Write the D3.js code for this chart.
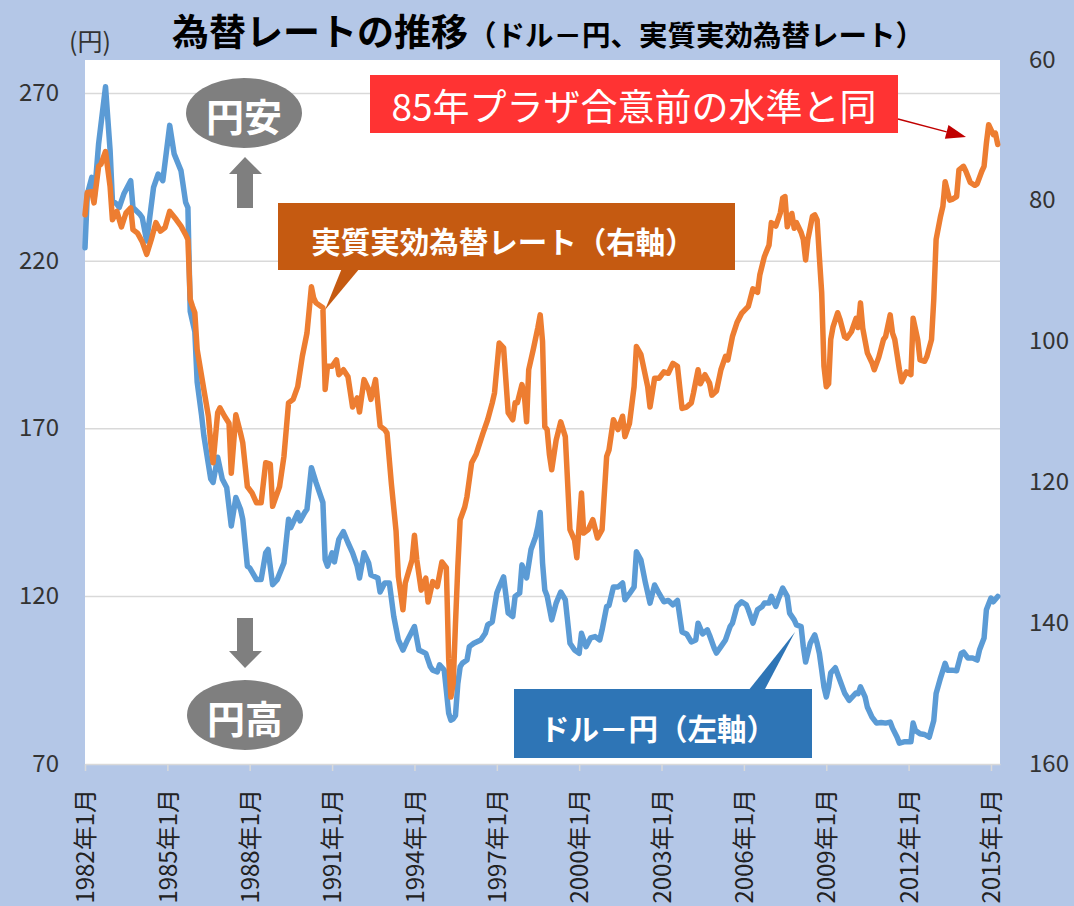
<!DOCTYPE html>
<html>
<head>
<meta charset="utf-8">
<script src="https://cdn.jsdelivr.net/npm/d3@7"></script>
<style>
  html, body { margin: 0; padding: 0; background: #b4c7e7; }
  svg { display: block; font-family: "Noto Sans CJK JP", "Noto Sans", sans-serif; }
</style>
</head>
<body>
<div id="chart"></div>
<script>
// ドル－円 (left axis, 円)
const usdJpy = [
  ["1982-01",224],["1982-02",240],["1982-04",245],["1982-05",238],["1982-07",255],["1982-10",272],
  ["1982-12",253],["1983-01",238],["1983-03",237],["1983-04",236],["1983-06",240],["1983-09",244],
  ["1983-10",236],["1984-01",234],["1984-02",233],["1984-04",226],["1984-07",242],["1984-09",246],
  ["1984-11",244],["1985-02",260.5],["1985-04",252],["1985-07",247],["1985-09",237.5],["1985-10",236],
  ["1985-11",205],["1985-12",202],["1986-01",199],["1986-02",184],["1986-04",174],["1986-05",168],
  ["1986-08",155],["1986-09",154],["1986-11",161.5],["1987-01",155],["1987-03",152.5],["1987-05",141],
  ["1987-07",149.5],["1987-09",146],["1987-10",143],["1987-12",129],["1988-01",128.5],["1988-04",125],
  ["1988-06",125],["1988-08",133],["1988-09",134],["1988-11",123.5],["1989-01",125],["1989-04",130],
  ["1989-06",143],["1989-07",140.5],["1989-10",145],["1989-11",142.5],["1990-01",145],["1990-02",146],
  ["1990-04",158.4],["1990-06",154],["1990-09",148],["1990-10",131],["1990-11",129],["1991-01",133],
  ["1991-02",130.3],["1991-04",137],["1991-06",139.3],["1991-08",136],["1991-10",133],["1991-12",129],
  ["1992-01",125.5],["1992-03",133],["1992-05",130],["1992-06",126.4],["1992-09",125.5],["1992-10",121.3],
  ["1992-12",124],["1993-02",124],["1993-04",114],["1993-06",107],["1993-08",104],["1993-10",107],
  ["1994-01",111],["1994-03",104],["1994-06",103],["1994-08",99],["1994-09",98],["1994-11",97.5],
  ["1994-12",99.6],["1995-02",98],["1995-03",92],["1995-04",85.2],["1995-05",83.1],["1995-06",83.5],
  ["1995-07",84.5],["1995-08",94],["1995-09",99],["1995-10",100.1],["1995-12",101],["1996-01",105],
  ["1996-03",106],["1996-06",107],["1996-08",109],["1996-09",111.5],["1996-11",112.4],["1997-01",121],
  ["1997-02",122.8],["1997-04",125.8],["1997-06",115],["1997-08",114],["1997-09",120],["1997-11",121],
  ["1997-12",129.4],["1998-02",125.5],["1998-04",134],["1998-06",137.8],["1998-07",140.8],["1998-08",145],
  ["1998-09",130],["1998-10",121.9],["1998-11",120.1],["1999-01",113],["1999-03",118],["1999-05",121.3],
  ["1999-07",119],["1999-09",106],["1999-11",104],["2000-01",103],["2000-02",109],["2000-04",105],
  ["2000-06",107.6],["2000-08",108],["2000-10",107],["2000-11",110],["2001-01",117],["2001-02",117.3],
  ["2001-04",122.8],["2001-06",122.8],["2001-08",124],["2001-09",119],["2001-11",120.8],["2002-01",122.8],
  ["2002-02",133.3],["2002-04",130.9],["2002-06",124],["2002-08",118],["2002-10",123.4],["2002-12",120.8],
  ["2003-02",118.4],["2003-04",118.8],["2003-06",117.5],["2003-08",118.8],["2003-10",109.4],["2003-12",108.8],
  ["2004-02",106.4],["2004-04",107],["2004-05",112],["2004-07",108.8],["2004-09",110],["2004-10",108.4],
  ["2004-12",104.6],["2005-01",103.1],["2005-03",105],["2005-05",107],["2005-07",111],["2005-08",112],
  ["2005-10",117],["2005-12",118.4],["2006-02",117.5],["2006-03",116],["2006-05",112],["2006-07",116],
  ["2006-09",117],["2006-10",118],["2006-12",118],["2007-01",120],["2007-03",117],["2007-04",119],
  ["2007-06",122.5],["2007-08",120],["2007-09",115],["2007-11",113],["2007-12",111.5],["2008-02",111],
  ["2008-03",105],["2008-04",100.4],["2008-06",106],["2008-08",108.5],["2008-09",106],["2008-10",103],
  ["2008-11",98],["2008-12",93],["2009-01",90],["2009-02",93],["2009-03",97.2],["2009-05",98.7],
  ["2009-07",95],["2009-09",91.2],["2009-11",89],["2010-02",91.2],["2010-03",91],["2010-04",93],
  ["2010-06",90],["2010-07",87],["2010-09",84],["2010-11",82.2],["2011-01",82.4],["2011-03",82.2],
  ["2011-05",82.5],["2011-06",80.7],["2011-08",78],["2011-09",76.2],["2011-11",76.6],["2012-02",76.6],
  ["2012-03",82.2],["2012-04",80],["2012-06",79],["2012-08",78.8],["2012-10",78],["2012-12",83],
  ["2013-01",91],["2013-03",95.7],["2013-05",100],["2013-06",98],["2013-08",98],["2013-10",97.8],
  ["2013-12",103],["2014-01",103.4],["2014-03",101.6],["2014-05",101.6],["2014-07",101],["2014-08",104],
  ["2014-10",107.6],["2014-11",116],["2015-01",119.5],["2015-02",118.4],["2015-04",120]
];

// 実質実効為替レート (right axis, inverted)
const reer = [
  ["1982-01",82],["1982-02",78.8],["1982-04",78.7],["1982-05",80.3],["1982-07",75.1],["1982-08",74.8],
  ["1982-10",73],["1982-12",78],["1983-01",82.7],["1983-03",81.5],["1983-05",83.7],["1983-07",81.7],
  ["1983-09",81],["1983-10",84.1],["1983-12",84.6],["1984-02",85.8],["1984-04",87.6],["1984-06",85.5],
  ["1984-08",83.1],["1984-10",84.3],["1984-12",83.8],["1985-02",81.5],["1985-05",82.7],["1985-07",83.6],
  ["1985-09",84.8],["1985-10",85.5],["1985-11",94],["1985-12",95],["1986-01",95.9],["1986-02",101.1],
  ["1986-05",106.8],["1986-07",110.6],["1986-08",114.4],["1986-09",117.2],["1986-11",110.1],["1986-12",109.4],
  ["1987-02",110.6],["1987-04",111.6],["1987-05",118.7],["1987-07",110.4],["1987-09",113],["1987-10",114.4],
  ["1987-12",120.6],["1988-02",121.5],["1988-04",122.9],["1988-06",122.9],["1988-08",117.2],["1988-10",117.4],
  ["1988-11",123.4],["1989-02",120.6],["1989-04",116.3],["1989-06",108.7],["1989-08",108.2],["1989-10",106.4],
  ["1989-12",102.1],["1990-02",98.8],["1990-04",92.2],["1990-05",93.8],["1990-06",94.5],["1990-09",95.2],
  ["1990-10",106.8],["1990-11",103.5],["1991-01",103.5],["1991-03",102.6],["1991-04",104.7],["1991-06",104],
  ["1991-08",105],["1991-10",109.3],["1991-12",108],["1992-01",110],["1992-03",105.4],["1992-05",106.8],
  ["1992-06",108.2],["1992-08",105.4],["1992-10",112],["1992-12",112.5],["1993-01",113],["1993-03",120.3],
  ["1993-05",126.9],["1993-06",133.4],["1993-08",138.1],["1993-09",134.3],["1993-12",131],["1994-01",127.5],
  ["1994-02",131],["1994-04",135.3],["1994-06",133.6],["1994-07",137],["1994-09",134.1],["1994-11",134.8],
  ["1995-01",131.3],["1995-03",132.1],["1995-04",145],["1995-05",150.5],["1995-06",148.5],["1995-07",140],
  ["1995-08",132],["1995-09",125.3],["1995-11",123.5],["1995-12",122],["1996-02",117.2],["1996-04",116],
  ["1996-05",115],["1996-07",113],["1996-09",111.1],["1996-11",108.7],["1996-12",107.3],["1997-02",100.2],
  ["1997-04",100.9],["1997-06",110.1],["1997-08",111.1],["1997-09",108.7],["1997-10",108.7],["1997-12",106.1],
  ["1998-01",107.5],["1998-02",111.4],["1998-03",104],["1998-05",101.1],["1998-07",98],["1998-08",96.2],
  ["1998-09",100],["1998-10",112.1],["1998-11",112.5],["1998-12",116],["1999-01",118.2],["1999-03",114],
  ["1999-05",111.4],["1999-07",113.5],["1999-09",126.7],["1999-11",128.2],["1999-12",130.7],["2000-02",121.5],
  ["2000-03",127.2],["2000-05",126.7],["2000-07",125.3],["2000-09",127.9],["2000-11",126.7],["2001-01",116.3],
  ["2001-02",115.4],["2001-04",111.1],["2001-06",112.5],["2001-08",110.6],["2001-09",113.5],["2001-11",111.6],
  ["2002-01",106.4],["2002-02",100.7],["2002-04",101.8],["2002-07",106.4],["2002-08",109.3],["2002-10",105.2],
  ["2002-12",105.2],["2003-02",104.3],["2003-04",104.5],["2003-06",103.1],["2003-08",103.5],["2003-10",109.5],
  ["2003-12",109.3],["2004-02",108.7],["2004-03",107.3],["2004-05",104],["2004-06",106],["2004-08",104.7],
  ["2004-10",105.9],["2004-11",107.6],["2005-01",107],["2005-03",104],["2005-05",102.1],["2005-06",102.6],
  ["2005-08",99.3],["2005-10",97.3],["2005-12",96],["2006-03",95],["2006-05",92.5],["2006-07",93],
  ["2006-08",90.5],["2006-10",87.9],["2006-12",86.3],["2007-01",83.1],["2007-03",83.6],["2007-05",81.7],
  ["2007-06",79.6],["2007-07",79.4],["2007-08",83.7],["2007-10",81.8],["2007-11",83.9],["2007-12",83.1],
  ["2008-02",84.5],["2008-03",85.5],["2008-04",88.4],["2008-05",85.5],["2008-07",82.2],["2008-08",82],
  ["2008-09",82.7],["2008-10",88],["2008-11",93.1],["2008-12",103.5],["2009-01",106.4],["2009-02",106],
  ["2009-03",99.7],["2009-04",97.9],["2009-06",95.9],["2009-07",96.8],["2009-09",99.3],["2009-10",99.5],
  ["2009-12",98.6],["2010-02",96.7],["2010-03",98],["2010-04",94.5],["2010-05",98.1],["2010-07",101.6],
  ["2010-09",103],["2010-10",104],["2010-12",102.2],["2011-02",99.7],["2011-03",99.3],["2011-05",96.2],
  ["2011-06",98.8],["2011-07",99.7],["2011-09",104],["2011-10",105.7],["2011-12",104.3],["2012-02",104.7],
  ["2012-03",96.7],["2012-05",99.7],["2012-06",102.6],["2012-08",102.8],["2012-09",102.1],["2012-11",99.7],
  ["2012-12",94],["2013-01",85.5],["2013-03",82.2],["2013-04",80.8],["2013-05",77.3],["2013-07",79.9],
  ["2013-08",79.8],["2013-10",79.4],["2013-11",75.6],["2014-01",75.1],["2014-02",75.8],["2014-04",77.4],
  ["2014-06",77.8],["2014-07",77.6],["2014-09",75.8],["2014-10",75.1],["2014-11",71.8],["2014-12",69.2],
  ["2015-02",70.6],["2015-03",70.4],["2015-04",72]
];

const xTicks = ["1982-01","1985-01","1988-01","1991-01","1994-01","1997-01",
                "2000-01","2003-01","2006-01","2009-01","2012-01","2015-01"];
const leftTicks = [70, 120, 170, 220, 270];
const rightTicks = [60, 80, 100, 120, 140, 160];

const W = 1074, H = 906;
const plot = { left: 85, right: 1000, top: 60, bottom: 764 };
const parse = d3.timeParse("%Y-%m");
const font = '"Noto Sans CJK JP", "Noto Sans", sans-serif';

const svg = d3.select("#chart").append("svg")
  .attr("width", W).attr("height", H);

svg.append("rect").attr("width", W).attr("height", H).attr("fill", "#b4c7e7");
svg.append("rect")
  .attr("x", plot.left).attr("y", plot.top)
  .attr("width", plot.right - plot.left).attr("height", plot.bottom - plot.top)
  .attr("fill", "#fff");

const x = d3.scaleTime().domain([parse("1982-01"), parse("2015-05")]).range([plot.left, plot.right]);
const yL = d3.scaleLinear().domain([70, 280]).range([plot.bottom, plot.top]);
const yR = d3.scaleLinear().domain([60, 160]).range([plot.top, plot.bottom]);

// gridlines
svg.append("g").selectAll("line")
  .data(leftTicks.filter(d => d > 70))
  .join("line")
  .attr("x1", plot.left).attr("x2", plot.right)
  .attr("y1", d => yL(d)).attr("y2", d => yL(d))
  .attr("stroke", "#d9d9d9").attr("stroke-width", 1.5);

// left axis labels
svg.append("g").selectAll("text")
  .data(leftTicks)
  .join("text")
  .attr("x", 59).attr("y", d => yL(d) - 3)
  .attr("text-anchor", "end").attr("dominant-baseline", "central")
  .attr("font-size", 24).attr("fill", "#333")
  .text(d => d);

// right axis labels
svg.append("g").selectAll("text")
  .data(rightTicks)
  .join("text")
  .attr("x", 1029).attr("y", d => yR(d) - 3)
  .attr("text-anchor", "start").attr("dominant-baseline", "central")
  .attr("font-size", 24).attr("fill", "#333")
  .text(d => d);

svg.append("text")
  .attr("x", 69).attr("y", 40)
  .attr("dominant-baseline", "central")
  .attr("font-size", 25).attr("fill", "#333")
  .text("(円)");

// x axis
const xAxis = d3.axisBottom(x)
  .tickValues(xTicks.map(parse))
  .tickSize(7).tickSizeOuter(0)
  .tickFormat(d3.timeFormat("%Y年%-m月"));

const gx = svg.append("g")
  .attr("transform", `translate(0,${plot.bottom})`)
  .call(xAxis);
gx.select(".domain").attr("stroke", "#d9d9d9").attr("stroke-width", 1.5);
gx.selectAll(".tick line").attr("stroke", "#d9d9d9").attr("stroke-width", 1.5);
gx.selectAll(".tick text")
  .attr("transform", "rotate(-90)")
  .attr("x", -25).attr("y", 0).attr("dy", "0.36em")
  .attr("text-anchor", "end")
  .attr("font-family", font).attr("font-size", 24).attr("fill", "#222");

// lines
const lineL = d3.line().x(d => x(parse(d[0]))).y(d => yL(d[1]));
const lineR = d3.line().x(d => x(parse(d[0]))).y(d => yR(d[1]));

svg.append("path").datum(usdJpy)
  .attr("d", lineL).attr("fill", "none")
  .attr("stroke", "#5b9bd5").attr("stroke-width", 5.5)
  .attr("stroke-linejoin", "round").attr("stroke-linecap", "round");

svg.append("path").datum(reer)
  .attr("d", lineR).attr("fill", "none")
  .attr("stroke", "#ed7d31").attr("stroke-width", 5.5)
  .attr("stroke-linejoin", "round").attr("stroke-linecap", "round");

// title
const title = svg.append("text").attr("x", 172).attr("y", 46).attr("fill", "#000").attr("font-weight", 700);
title.append("tspan").attr("font-size", 37).text("為替レートの推移");
title.append("tspan").attr("font-size", 28.5).text("（ドル－円、実質実効為替レート）");

// 円安 / 円高 markers
const gray = "#7f7f7f";
function bubble(cx, cy, label) {
  svg.append("ellipse").attr("cx", cx).attr("cy", cy).attr("rx", 58).attr("ry", 35).attr("fill", gray);
  svg.append("text").attr("x", cx).attr("y", cy + 1)
    .attr("text-anchor", "middle").attr("dominant-baseline", "central")
    .attr("font-size", 38).attr("font-weight", 700).attr("fill", "#fff")
    .text(label);
}
bubble(244, 113, "円安");
bubble(245, 715, "円高");

svg.append("polygon").attr("fill", gray)
  .attr("points", "245,157 262,174 253,174 253,208 237,208 237,174 229,174");
svg.append("polygon").attr("fill", gray)
  .attr("points", "245,668 262,651 253,651 253,618 237,618 237,651 229,651");

// callout: 実質実効為替レート
svg.append("polygon").attr("fill", "#c55a11").attr("points", "342,268 360,268 325,310");
svg.append("rect").attr("x", 278).attr("y", 203).attr("width", 457).attr("height", 67).attr("fill", "#c55a11");
svg.append("text").attr("x", 503).attr("y", 240)
  .attr("text-anchor", "middle").attr("dominant-baseline", "central")
  .attr("font-size", 29.5).attr("font-weight", 700).attr("fill", "#fff")
  .text("実質実効為替レート（右軸）");

// callout: ドル－円
svg.append("polygon").attr("fill", "#2e75b6").attr("points", "748,691 764,691 795,632");
svg.append("rect").attr("x", 514).attr("y", 689).attr("width", 298).attr("height", 69).attr("fill", "#2e75b6");
svg.append("text").attr("x", 658).attr("y", 727)
  .attr("text-anchor", "middle").attr("dominant-baseline", "central")
  .attr("font-size", 29.5).attr("font-weight", 700).attr("fill", "#fff")
  .text("ドル－円（左軸）");

// red note with arrow
svg.append("rect").attr("x", 370).attr("y", 75).attr("width", 528).attr("height", 58).attr("fill", "#ff3333");
svg.append("text").attr("x", 634).attr("y", 105)
  .attr("text-anchor", "middle").attr("dominant-baseline", "central")
  .attr("font-size", 37).attr("fill", "#fff")
  .text("85年プラザ合意前の水準と同");

const a0 = [898, 119], a1 = [966, 137];
const len = Math.hypot(a1[0] - a0[0], a1[1] - a0[1]);
const ux = (a1[0] - a0[0]) / len, uy = (a1[1] - a0[1]) / len;
const bx = a1[0] - 20 * ux, by = a1[1] - 20 * uy;
svg.append("line")
  .attr("x1", a0[0]).attr("y1", a0[1]).attr("x2", bx).attr("y2", by)
  .attr("stroke", "#c00000").attr("stroke-width", 1.5);
svg.append("polygon").attr("fill", "#c00000")
  .attr("points", [a1, [bx - 7 * uy, by + 7 * ux], [bx + 7 * uy, by - 7 * ux]].map(p => p.join(",")).join(" "));
</script>
</body>
</html>
